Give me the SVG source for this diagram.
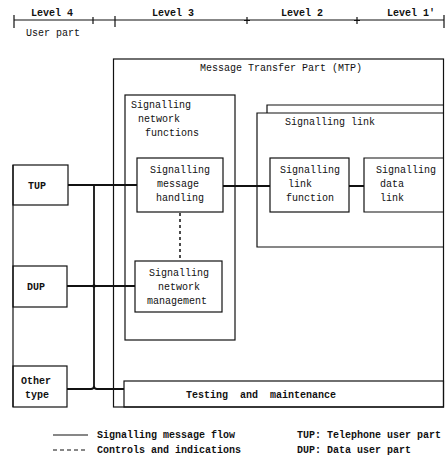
<svg xmlns="http://www.w3.org/2000/svg" width="448" height="461" viewBox="0 0 448 461">
<style>
text{font-family:"Liberation Mono","DejaVu Sans Mono",monospace;fill:#111;font-size:10px}
.b{font-weight:bold}
.c{text-anchor:middle}
.box{fill:none;stroke:#111;stroke-width:1.2}
.ln{fill:none;stroke:#111;stroke-width:1.2}
.sig{fill:none;stroke:#111;stroke-width:1.8}
.dot{fill:none;stroke:#111;stroke-width:1.5;stroke-dasharray:3 3}
</style>
<rect width="448" height="461" fill="#fff"/>
<g id="levels">
<path class="ln" d="M14 20H444M14 15V28M93 17V24M115 16V27M247 17V24M357 17V24M444 15V28M244 20.5H250M354 20.5H360"/>
<text class="b c" x="52" y="16">Level 4</text>
<text class="b c" x="173" y="16">Level 3</text>
<text class="b c" x="302" y="16">Level 2</text>
<text class="b c" x="411" y="16">Level 1'</text>
<text class="c" x="53" y="36">User part</text>
</g>
<g id="mtp">
<rect class="box" x="113.5" y="59" width="330" height="348"/>
<text class="c" x="281" y="71">Message Transfer Part (MTP)</text>
</g>
<g id="snf">
<rect class="box" x="125" y="95" width="110" height="245"/>
<text x="131" y="108">Signalling</text>
<text x="138" y="122">network</text>
<text x="145" y="136">functions</text>
</g>
<g id="slink">
<path class="box" d="M267 113V105H443.5"/>
<path class="box" d="M443.5 113H257V247H443.5"/>
<text class="c" x="330" y="125">Signalling link</text>
</g>
<g id="smh">
<rect class="box" x="137" y="158" width="86" height="54"/>
<text class="c" x="180" y="173">Signalling</text>
<text class="c" x="178" y="187">message</text>
<text class="c" x="180" y="201">handling</text>
</g>
<g id="slf">
<rect class="box" x="270" y="158" width="79" height="54"/>
<text class="c" x="310" y="173">Signalling</text>
<text class="c" x="300" y="187">link</text>
<text class="c" x="310" y="201">function</text>
</g>
<g id="sdl">
<path class="box" d="M443.5 158H364V212H443.5"/>
<text class="c" x="406" y="173">Signalling</text>
<text class="c" x="392" y="187">data</text>
<text class="c" x="392" y="201">link</text>
</g>
<g id="snm">
<rect class="box" x="135" y="261" width="87" height="51"/>
<text class="c" x="179" y="276">Signalling</text>
<text class="c" x="179" y="290">network</text>
<text class="c" x="177" y="304">management</text>
</g>
<g id="tm">
<rect class="box" x="124" y="381" width="319.5" height="26"/>
<text class="b c" x="261" y="398" font-size="11" xml:space="preserve">Testing  and  maintenance</text>
</g>
<g id="userparts">
<path class="box" d="M13 165V407"/>
<rect class="box" x="13" y="165" width="55" height="40"/>
<text class="b c" x="37" y="189">TUP</text>
<rect class="box" x="13" y="266" width="54" height="41"/>
<text class="b c" x="36" y="290">DUP</text>
<rect class="box" x="13" y="366" width="54" height="41"/>
<text class="b c" x="36" y="384">Other</text>
<text class="b c" x="37" y="398">type</text>
</g>
<g id="connectors">
<path class="sig" d="M68 185H137M223 186H270M349 186H364"/>
<path class="sig" d="M94 185V386q0 3 3 3M91 389q3 0 3 -3"/>
<path class="sig" d="M67 286H135"/>
<circle cx="94" cy="286" r="1.8" fill="#111"/>
<path class="sig" d="M67 389H91M97 389H124"/>
<path class="dot" d="M180 213V261"/>
</g>
<g id="legend">
<path class="ln" d="M53 435H88"/>
<path class="ln" d="M53 450H88" stroke-dasharray="4 3"/>
<text class="b" x="97" y="438">Signalling message flow</text>
<text class="b" x="97" y="453">Controls and indications</text>
<text class="b" x="297" y="438">TUP: Telephone user part</text>
<text class="b" x="297" y="453">DUP: Data user part</text>
</g>
</svg>
